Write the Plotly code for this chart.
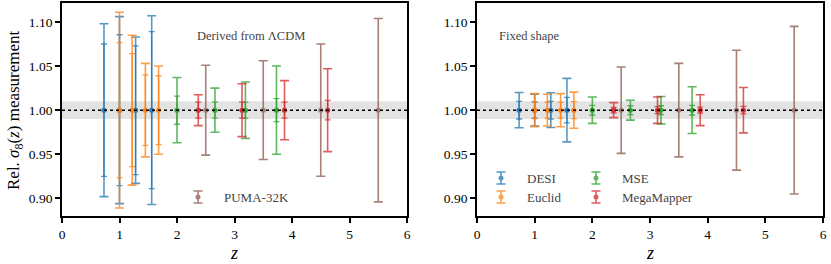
import plotly.graph_objects as go

# ---------------- data ----------------
surveys = ["DESI", "Euclid", "MSE", "MegaMapper", "PUMA-32K"]
colors = ["#1f77b4", "#ff7f0e", "#2ca02c", "#d62728", "#8c564b"]

z_desi = [0.73, 1.0, 1.28, 1.56]
z_euclid = [1.0, 1.22, 1.45, 1.68]
z_mse = [2.0, 2.66, 3.19, 3.73]
z_mm = [2.37, 3.13, 3.87, 4.62]
z_puma = [2.5, 3.5, 4.5, 5.5]

# Derived from LCDM (left panel): outer / inner relative errors
lcdm_outer_desi = [0.098, 0.106, 0.083, 0.107]
lcdm_inner_desi = [0.075, 0.0855, 0.073, 0.089]
lcdm_outer_euclid = [0.111, 0.085, 0.053, 0.050]
lcdm_inner_euclid = [0.0765, 0.064, 0.040, 0.039]
lcdm_outer_mse = [0.037, 0.025, 0.032, 0.050]
lcdm_inner_mse = [0.016, 0.009, 0.009, 0.013]
lcdm_outer_mm = [0.0175, 0.030, 0.0335, 0.047]
lcdm_inner_mm = [0.009, 0.009, 0.009, 0.011]
lcdm_outer_puma = [0.051, 0.056, 0.075, 0.104]

# Fixed shape (right panel)
fix_outer_desi = [0.020, 0.018, 0.0197, 0.036]
fix_inner_desi = [0.010, 0.009, 0.010, 0.0145]
fix_outer_euclid = [0.0187, 0.018, 0.0188, 0.0205]
fix_inner_euclid = [0.0097, 0.009, 0.009, 0.0097]
fix_outer_mse = [0.015, 0.0113, 0.0155, 0.0265]
fix_inner_mse = [0.0055, 0.005, 0.005, 0.0055]
fix_outer_mm = [0.0085, 0.015, 0.0175, 0.0257]
fix_inner_mm = [0.003, 0.004, 0.0034, 0.0043]
fix_outer_puma = [0.049, 0.053, 0.068, 0.095]

xticks = [0, 1, 2, 3, 4, 5, 6]
yticks = [0.90, 0.95, 1.00, 1.05, 1.10]
band = 0.01

# ---------------- figure ----------------
W, H = 831, 264
FONT = "Liberation Serif"
fig = go.Figure()

panels = [
    ("x", "y", [
        (z_desi, lcdm_outer_desi, lcdm_inner_desi),
        (z_euclid, lcdm_outer_euclid, lcdm_inner_euclid),
        (z_mse, lcdm_outer_mse, lcdm_inner_mse),
        (z_mm, lcdm_outer_mm, lcdm_inner_mm),
        (z_puma, lcdm_outer_puma, None),
    ]),
    ("x2", "y2", [
        (z_desi, fix_outer_desi, fix_inner_desi),
        (z_euclid, fix_outer_euclid, fix_inner_euclid),
        (z_mse, fix_outer_mse, fix_inner_mse),
        (z_mm, fix_outer_mm, fix_inner_mm),
        (z_puma, fix_outer_puma, None),
    ]),
]

for xa, ya, series in panels:
    for (zs, outer, inner), col, name in zip(series, colors, surveys):
        fig.add_trace(go.Scatter(
            x=zs, y=[1.0] * len(zs), mode="markers", xaxis=xa, yaxis=ya,
            marker=dict(color=col, size=5), opacity=0.75, showlegend=False,
            error_y=dict(type="data", array=outer, color=col, thickness=1.6, width=4.5),
            name=name))
        if inner is not None:
            fig.add_trace(go.Scatter(
                x=zs, y=[1.0] * len(zs), mode="markers", xaxis=xa, yaxis=ya,
                marker=dict(color=col, size=5), opacity=0.75, showlegend=False,
                error_y=dict(type="data", array=inner, color=col, thickness=1.3, width=3),
                name=name))

# band and dotted line
for xa, ya in [("x", "y"), ("x2", "y2")]:
    fig.add_shape(type="rect", xref=f"{xa} domain", yref=ya, x0=0, x1=1,
                  y0=1 - band, y1=1 + band, fillcolor="rgba(200,200,200,0.5)",
                  line=dict(width=0), layer="below")
    fig.add_shape(type="line", xref=f"{xa} domain", yref=ya, x0=0, x1=1,
                  y0=1, y1=1, line=dict(color="black", width=1.5, dash="dot"))

# ---------------- custom legends (pixel overlay axis) ----------------
leg_items = [
    ("PUMA-32K", colors[4], 198, 197),
    ("DESI", colors[0], 501, 178),
    ("Euclid", colors[1], 501, 197),
    ("MSE", colors[2], 596, 178),
    ("MegaMapper", colors[3], 596, 197),
]
for name, col, px, py in leg_items:
    fig.add_trace(go.Scatter(
        x=[px], y=[py], mode="markers", xaxis="x3", yaxis="y3",
        marker=dict(color=col, size=5), opacity=0.75, showlegend=False,
        error_y=dict(type="constant", value=6, color=col, thickness=1.6, width=4.5),
        hoverinfo="skip"))
    fig.add_annotation(x=(px + 24) / W, y=1 - py / H, xref="paper", yref="paper", text=name,
                       showarrow=False, xanchor="left", yanchor="middle",
                       font=dict(family=FONT, size=13, color="#444"))

# panel texts
fig.add_annotation(x=195 / W, y=1 - 36 / H, xref="paper", yref="paper", text="Derived from ΛCDM",
                   showarrow=False, xanchor="left", yanchor="middle",
                   font=dict(family=FONT, size=12.5, color="#444"))
fig.add_annotation(x=497 / W, y=1 - 36 / H, xref="paper", yref="paper", text="Fixed shape",
                   showarrow=False, xanchor="left", yanchor="middle",
                   font=dict(family=FONT, size=12.5, color="#444"))

# axis titles
fig.add_annotation(x=15 / W, y=1 - 110 / H, xref="paper", yref="paper",
                   text="Rel. <i>σ</i><sub>8</sub>(<i>z</i>) measurement",
                   showarrow=False, textangle=-90, xanchor="center", yanchor="middle",
                   font=dict(family=FONT, size=17, color="black"))
for cx in [234, 650]:
    fig.add_annotation(x=cx / W, y=1 - 253 / H, xref="paper", yref="paper", text="<i>z</i>",
                       showarrow=False, xanchor="center", yanchor="middle",
                       font=dict(family=FONT, size=18, color="black"))

axis_common = dict(showline=True, linecolor="black", linewidth=1.8, mirror=True,
                   ticks="outside", ticklen=5, tickwidth=1.5, tickcolor="black",
                   showgrid=False, zeroline=False, automargin=False,
                   tickfont=dict(family=FONT, size=13.5, color="black"))

xl = dict(range=[0, 6], tickvals=xticks, **axis_common)
yl = dict(range=[0.880, 1.1215], tickvals=yticks, tickformat=".2f", **axis_common)

y_dom = [1 - 216 / H, 1 - 3 / H]
fig.update_layout(
    width=W, height=H,
    margin=dict(l=0, r=0, t=0, b=0),
    paper_bgcolor="white", plot_bgcolor="rgba(0,0,0,0)",
    xaxis=dict(domain=[62 / W, 407 / W], anchor="y", **xl),
    yaxis=dict(domain=y_dom, anchor="x", **yl),
    xaxis2=dict(domain=[477 / W, 823 / W], anchor="y2", **xl),
    yaxis2=dict(domain=y_dom, anchor="x2", **yl),
    xaxis3=dict(domain=[0, 1], range=[0, W], visible=False, anchor="y3", fixedrange=True),
    yaxis3=dict(domain=[0, 1], range=[H, 0], visible=False, anchor="x3", fixedrange=True),
    showlegend=False,
)

fig.write_html("out.html", config={"displayModeBar": False},
               post_script="document.body.style.margin='0';document.body.style.padding='0';")
